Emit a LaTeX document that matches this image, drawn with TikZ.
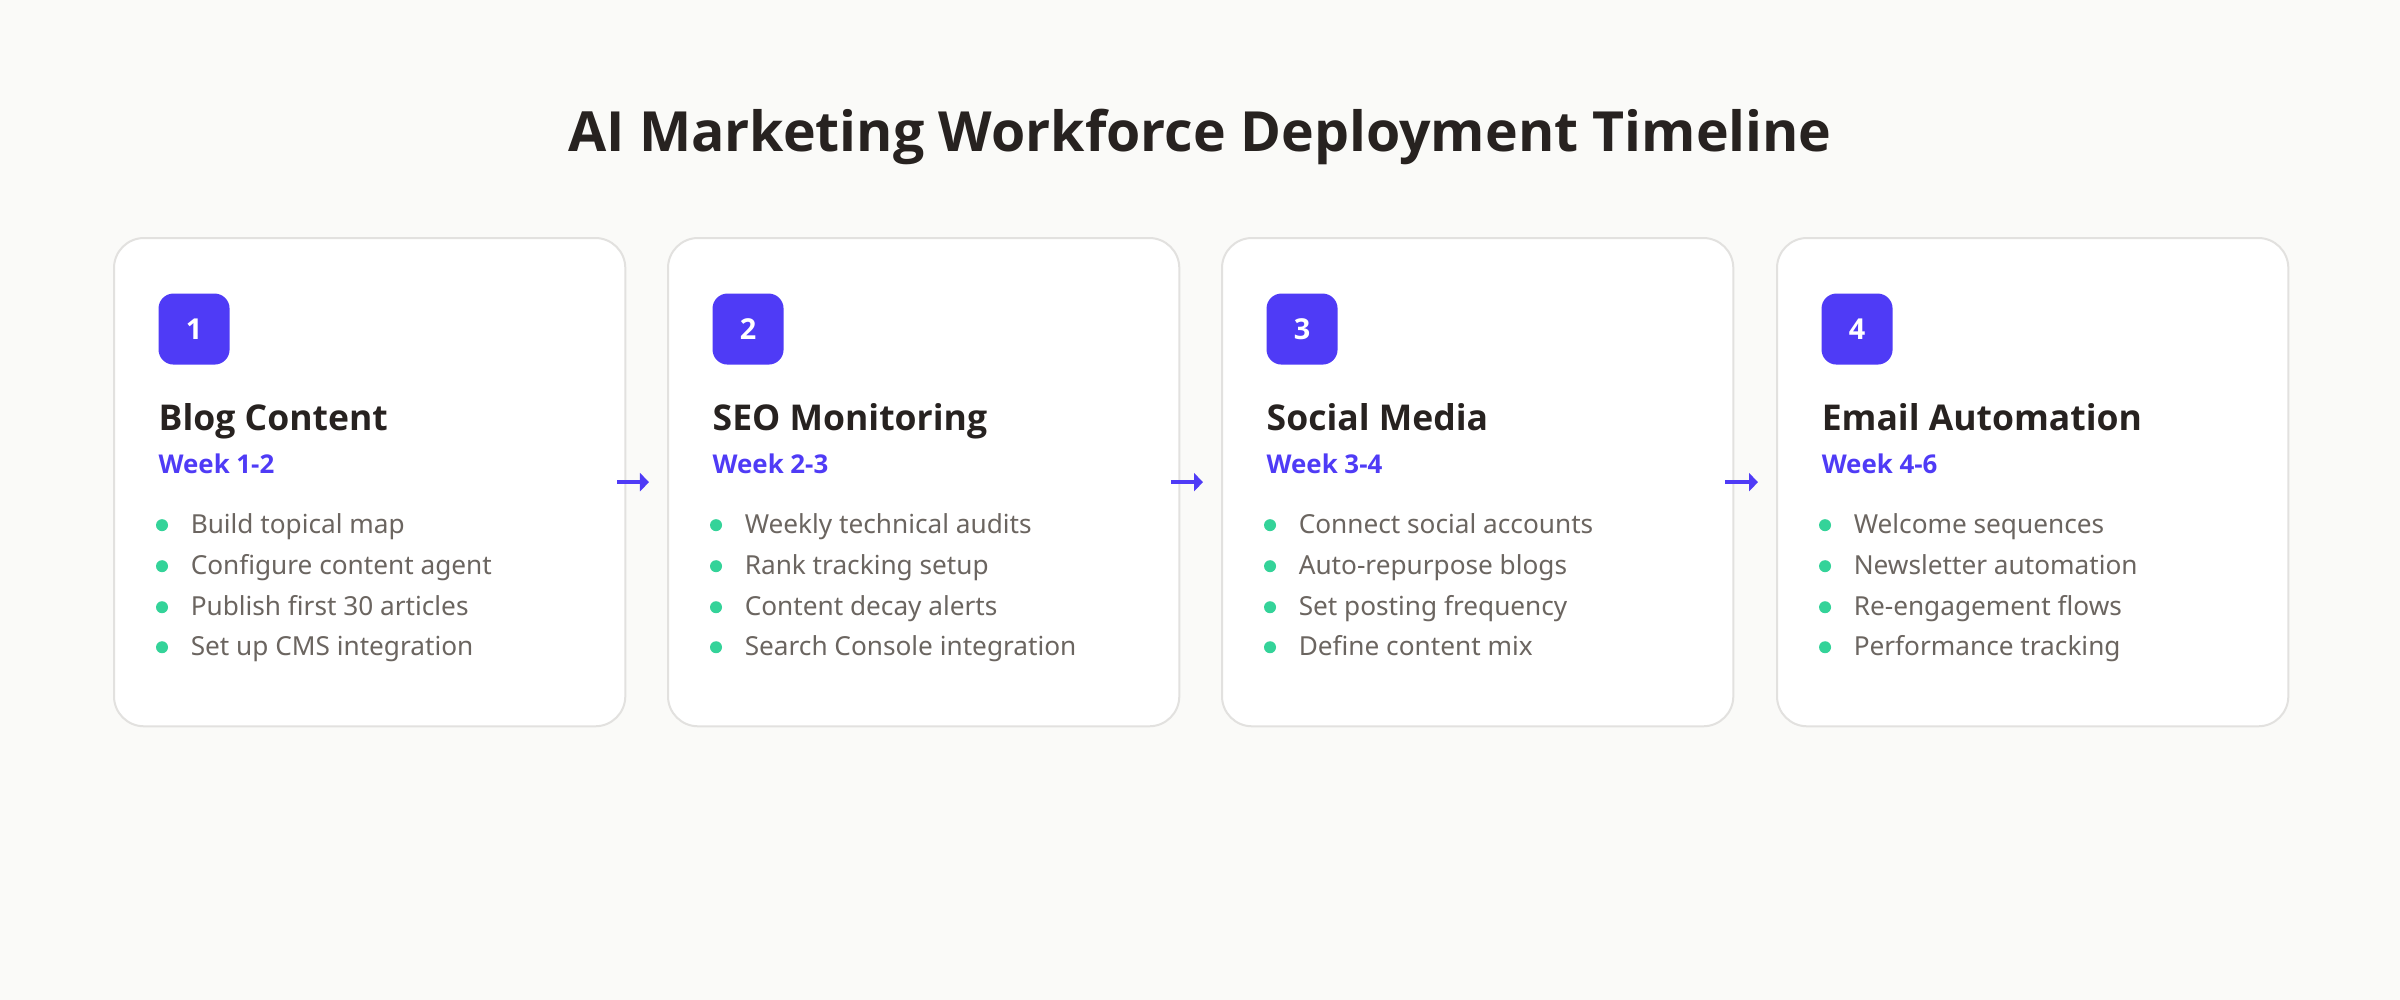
\documentclass[tikz,border=0pt]{standalone}
\usepackage{fontspec}
\setmainfont{Noto Sans}
\IfFontExistsTF{Noto Sans Bold}{\newfontfamily\heavy{Noto Sans Bold}}{%
  \IfFontExistsTF{NotoSans-Bold.ttf}{\newfontfamily\heavy{NotoSans-Bold.ttf}}{%
    \IfFontExistsTF{Open Sans Bold}{\newfontfamily\heavy{Open Sans Bold}}{%
      \IfFontExistsTF{Fira Sans Bold}{\newfontfamily\heavy{Fira Sans Bold}}{%
        \newfontfamily\heavy{DejaVu Sans Bold}}}}}
\usetikzlibrary{arrows.meta}
\definecolor{bg}{HTML}{FAFAF8}
\definecolor{cardborder}{HTML}{E2E1DF}
\definecolor{violet}{HTML}{4F3BF6}
\definecolor{ink}{HTML}{272220}
\definecolor{graytext}{HTML}{6B6560}
\definecolor{mint}{HTML}{34D399}
\tikzset{
  card/.style={draw=cardborder, line width=0.02cm, fill=white, rounded corners=0.30cm,
    minimum width=5.11cm, minimum height=4.88cm, anchor=north west, inner sep=0pt},
  badge/.style={fill=violet, rounded corners=0.15cm, minimum width=0.71cm, minimum height=0.71cm,
    inner sep=0pt, text=white, font=\fontsize{8.2pt}{10pt}\heavy},
  cardtitle/.style={anchor=base west, inner sep=0pt, text=ink, font=\fontsize{10.1pt}{12pt}\heavy},
  weeklabel/.style={anchor=base west, inner sep=0pt, text=violet, font=\fontsize{7.35pt}{9pt}\heavy},
  itemtext/.style={anchor=base west, inner sep=0pt, text=graytext, font=\fontsize{7.45pt}{9pt}\selectfont},
  dot/.style={circle, fill=mint, minimum size=0.12cm, inner sep=0pt},
  flow/.style={draw=violet, line width=0.035cm, -{Triangle[length=0.09cm, width=0.18cm]}},
  maintitle/.style={anchor=base, inner sep=0pt, text=ink, font=\fontsize{15.75pt}{19pt}\heavy}
}
\newcommand{\stage}[5]{%
  % #1 name, #2 left x, #3 number, #4 title, #5 week
  \node[card] (#1) at (#2,237) {};
  \node[badge] (#1b) at ([xshift=0.81cm,yshift=-0.92cm]#1.north west) {#3};
  \node[cardtitle] (#1t) at ([xshift=0.45cm,yshift=-1.93cm]#1.north west) {#4};
  \node[weeklabel] (#1w) at ([xshift=0.45cm,yshift=-2.36cm]#1.north west) {#5};
}
\newcommand{\bitem}[4]{%
  % #1 card, #2 index name, #3 baseline offset (cm), #4 text
  \node[dot] (#1d#2) at ([xshift=0.49cm,yshift=-#3cm+0.08cm]#1.north west) {};
  \node[itemtext] (#1i#2) at ([xshift=0.77cm,yshift=-#3cm]#1.north west) {#4};
}
\begin{document}
\begin{tikzpicture}[x=0.01cm, y=-0.01cm]
  \fill[bg] (0,0) rectangle (2400,1000);
  \useasboundingbox (0,0) rectangle (2400,1000);

  \node[maintitle] (title) at (1200,151) {AI Marketing Workforce Deployment Timeline};

  \stage{c1}{113}{1}{Blog Content}{Week 1-2}
  \bitem{c1}{1}{2.96}{Build topical map}
  \bitem{c1}{2}{3.37}{Configure content agent}
  \bitem{c1}{3}{3.78}{Publish first 30 articles}
  \bitem{c1}{4}{4.18}{Set up CMS integration}

  \stage{c2}{667}{2}{SEO Monitoring}{Week 2-3}
  \bitem{c2}{1}{2.96}{Weekly technical audits}
  \bitem{c2}{2}{3.37}{Rank tracking setup}
  \bitem{c2}{3}{3.78}{Content decay alerts}
  \bitem{c2}{4}{4.18}{Search Console integration}

  \stage{c3}{1221}{3}{Social Media}{Week 3-4}
  \bitem{c3}{1}{2.96}{Connect social accounts}
  \bitem{c3}{2}{3.37}{Auto-repurpose blogs}
  \bitem{c3}{3}{3.78}{Set posting frequency}
  \bitem{c3}{4}{4.18}{Define content mix}

  \stage{c4}{1776}{4}{Email Automation}{Week 4-6}
  \bitem{c4}{1}{2.96}{Welcome sequences}
  \bitem{c4}{2}{3.37}{Newsletter automation}
  \bitem{c4}{3}{3.78}{Re-engagement flows}
  \bitem{c4}{4}{4.18}{Performance tracking}

  \draw[flow] ([xshift=-0.09cm]c1.east) -- ([xshift=-0.18cm]c2.west);
  \draw[flow] ([xshift=-0.09cm]c2.east) -- ([xshift=-0.18cm]c3.west);
  \draw[flow] ([xshift=-0.09cm]c3.east) -- ([xshift=-0.18cm]c4.west);
\end{tikzpicture}
\end{document}
